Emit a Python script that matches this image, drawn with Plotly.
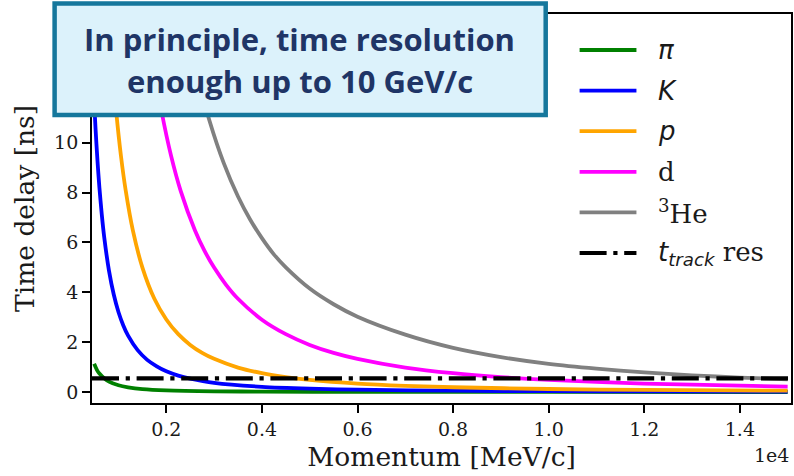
import plotly.graph_objects as go

# ---- data: time delay vs. momentum for each species ----
P_PION = [490, 550, 600, 700, 800, 1000, 1200, 1500, 2000, 3000, 4000, 6000, 8000, 10000, 15000]
T_PION = [1.13, 0.88, 0.74, 0.55, 0.42, 0.27, 0.19, 0.12, 0.068, 0.030, 0.017, 0.0075, 0.0042, 0.0027, 0.0012]

P_KAON = [445, 480, 520, 560, 600, 650, 700, 800, 900, 1000, 1100, 1200, 1400, 1600, 1800, 2000,
          2250, 2500, 3000, 4000, 5000, 6000, 8000, 10000, 12000, 15000]
T_KAON = [13.72, 12.08, 10.53, 9.26, 8.20, 7.11, 6.22, 4.87, 3.91, 3.20, 2.67, 2.26, 1.68, 1.29, 1.03, 0.83,
          0.66, 0.54, 0.37, 0.21, 0.135, 0.094, 0.053, 0.034, 0.024, 0.015]

P_PROTON = [780, 820, 880, 950, 1050, 1150, 1300, 1500, 1750, 2000, 2250, 2500, 2750, 3000, 3500,
            4000, 4500, 5000, 6000, 7000, 8000, 10000, 12000, 15000]
T_PROTON = [15.69, 14.44, 12.84, 11.27, 9.48, 8.08, 6.48, 4.99, 3.74, 2.91, 2.32, 1.89, 1.57, 1.33, 0.98,
            0.755, 0.598, 0.485, 0.338, 0.249, 0.191, 0.122, 0.085, 0.054]

P_DEUTERON = [1560, 1650, 1750, 1900, 2100, 2300, 2600, 2800, 3000, 3250, 3500, 4000, 4500, 5000,
              5500, 6000, 7000, 8000, 9000, 10000, 12000, 15000]
T_DEUTERON = [15.68, 14.29, 12.95, 11.26, 9.47, 8.07, 6.48, 5.66, 4.99, 4.30, 3.74, 2.90, 2.32, 1.89,
              1.57, 1.33, 0.98, 0.754, 0.597, 0.485, 0.338, 0.216]

P_HE3 = [2340, 2500, 2700, 2900, 3200, 3500, 3750, 4000, 4250, 4500, 5000, 5500, 6000, 7000, 8000,
         9000, 10000, 11000, 12000, 13000, 14000, 15000]
T_HE3 = [15.63, 14.01, 12.31, 10.90, 9.19, 7.84, 6.93, 6.17, 5.52, 5.00, 4.15, 3.52, 3.02, 2.30, 1.77,
         1.40, 1.13, 0.94, 0.79, 0.67, 0.58, 0.51]

T_TRACK_RES = 0.55          # track timing resolution [ns]
X_RANGE = [445, 15070]      # momentum [MeV/c]
Y_RANGE = [-0.44, 15.16]    # time delay [ns]

X_TICKS = [2000, 4000, 6000, 8000, 10000, 12000, 14000]
X_TICK_TEXT = ["0.2", "0.4", "0.6", "0.8", "1.0", "1.2", "1.4"]
Y_TICKS = [0, 2, 4, 6, 8, 10, 12, 14]

SERIES = [
    ("pi", P_PION, T_PION, "#008000", "<i>π</i>", "DejaVu Sans"),
    ("K", P_KAON, T_KAON, "#0000FF", "<i>K</i>", "DejaVu Sans"),
    ("p", P_PROTON, T_PROTON, "#FFA500", "<i>p</i>", "DejaVu Sans"),
    ("d", P_DEUTERON, T_DEUTERON, "#FF00FF", "d", "DejaVu Serif"),
    ("He3", P_HE3, T_HE3, "#808080", "<sup>3</sup>He", "DejaVu Serif"),
]

CALLOUT_LINES = ["In principle, time resolution", "enough up to 10 GeV/c"]

# ---- page geometry ----
W, H = 794, 476
ML, MR, MT, MB = 92, 1, 14, 73
LINE_W = 3.8
DASHDOT = "27px,6.7px,4.2px,6.7px"
SERIF = "DejaVu Serif"
INK = "#1a1a1a"


def px_x(px):
    return (px - ML) / (W - ML - MR)


def px_y(py):
    return (H - MB - py) / (H - MT - MB)


fig = go.Figure()

for name, xs, ys, color, _, _ in SERIES:
    fig.add_trace(go.Scatter(
        x=xs, y=ys, mode="lines", name=name,
        line=dict(color=color, width=LINE_W, shape="spline", smoothing=0.8),
        showlegend=False, hoverinfo="skip",
    ))

fig.add_trace(go.Scatter(
    x=X_RANGE, y=[T_TRACK_RES, T_TRACK_RES], mode="lines", name="t_track res",
    line=dict(color="black", width=4.2, dash=DASHDOT),
    showlegend=False, hoverinfo="skip",
))

axis_common = dict(
    showline=True, linecolor="black", linewidth=1.8, mirror=True,
    ticks="outside", ticklen=8, tickwidth=1.7, tickcolor="black",
    showgrid=False, zeroline=False,
    tickfont=dict(family=SERIF, size=19, color=INK),
)

fig.update_xaxes(
    range=X_RANGE, tickvals=X_TICKS, ticktext=X_TICK_TEXT,
    title=dict(text="Momentum [MeV/c]", font=dict(family=SERIF, size=26.5, color=INK), standoff=9),
    **axis_common,
)
fig.update_yaxes(
    range=Y_RANGE, tickvals=Y_TICKS,
    title=dict(text="Time delay [ns]", font=dict(family=SERIF, size=26.5, color=INK), standoff=12),
    **axis_common,
)

shapes = []
annotations = []

# legend drawn by hand: long sample lines with serif / italic labels
LEG_Y0, LEG_DY = 50, 40.6
legend_items = [(c, lbl, fam, "solid", LINE_W) for _, _, _, c, lbl, fam in SERIES]
legend_items.append(("black",
                     "<span style='font-family:DejaVu Sans'><i>t</i><sub><i>track</i></sub></span> res",
                     SERIF, DASHDOT, 4.2))
for i, (color, label, fam, dash, lw) in enumerate(legend_items):
    yy = px_y(LEG_Y0 + i * LEG_DY)
    shapes.append(dict(type="line", xref="paper", yref="paper",
                       x0=px_x(581), x1=px_x(638), y0=yy, y1=yy,
                       line=dict(color=color, width=lw, dash=dash)))
    annotations.append(dict(xref="paper", yref="paper", x=px_x(658), y=yy,
                            xanchor="left", yanchor="middle", showarrow=False,
                            text=label, font=dict(family=fam, size=26, color=INK)))

# axis scale factor
annotations.append(dict(xref="paper", yref="paper", x=px_x(793), y=px_y(455),
                        xanchor="right", yanchor="middle", showarrow=False,
                        text="1e4", font=dict(family=SERIF, size=19, color=INK)))

# callout box
shapes.append(dict(type="rect", xref="paper", yref="paper", layer="above",
                   x0=px_x(54.5), x1=px_x(547), y0=px_y(3.5), y1=px_y(115),
                   fillcolor="#DCF2FB", line=dict(color="#15779C", width=4.5)))
for line_text, py in zip(CALLOUT_LINES, [39, 81]):
    annotations.append(dict(xref="paper", yref="paper", x=px_x(300.5), y=px_y(py),
                            xanchor="center", yanchor="middle", showarrow=False,
                            text="<b>" + line_text + "</b>",
                            font=dict(family="Open Sans", size=31, color="#1F3566")))

fig.update_layout(
    width=W, height=H,
    margin=dict(l=ML, r=MR, t=MT, b=MB, pad=0),
    paper_bgcolor="white", plot_bgcolor="white",
    shapes=shapes, annotations=annotations,
    showlegend=False,
)

fig.write_html("out.html")
